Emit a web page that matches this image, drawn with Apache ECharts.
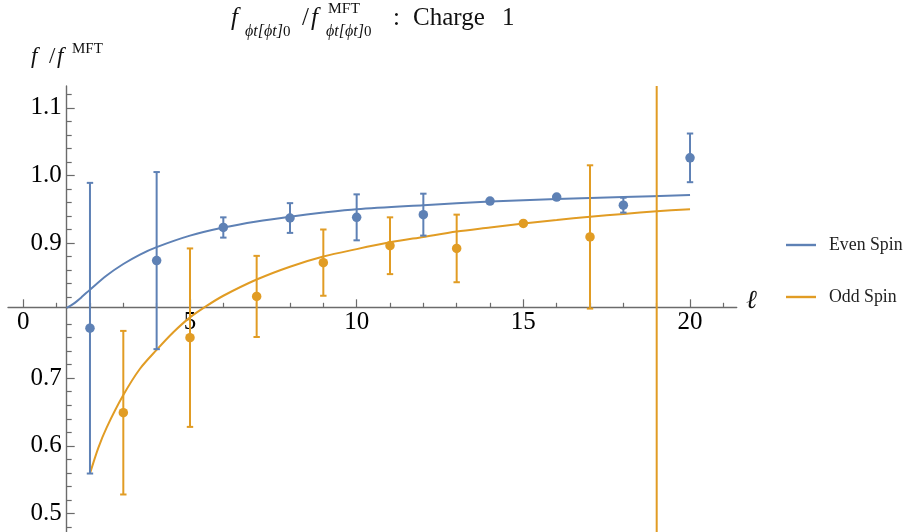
<!DOCTYPE html>
<html><head><meta charset="utf-8">
<script src="https://cdn.jsdelivr.net/npm/echarts@6/dist/echarts.min.js"></script>
<style>html,body{margin:0;padding:0;background:#fff}#c{width:906px;height:532px}</style>
</head><body><div id="c"></div>
<script>
// ---- data ----
const evenL   = [2, 4, 6, 8, 10, 12, 14, 16, 18, 20];
const evenVal = [0.774, 0.874, 0.923, 0.937, 0.938, 0.942, 0.962, 0.968, 0.956, 1.026];
const evenErr = [0.215, 0.131, 0.015, 0.022, 0.034, 0.031, 0, 0, 0.011, 0.036];
const oddL    = [3, 5, 7, 9, 11, 13, 15, 17, 19];
const oddVal  = [0.649, 0.760, 0.821, 0.871, 0.896, 0.892, 0.929, 0.909, 0.20];
const oddErr  = [0.121, 0.132, 0.060, 0.049, 0.042, 0.050, 0, 0.106, 1.2];
const evenFitL   = [1.3, 1.5, 1.75, 2, 2.5, 3, 3.5, 4, 5, 6, 7, 8, 9, 10, 12, 14, 16, 18, 20];
const evenFitVal = [0.804, 0.810, 0.820, 0.831, 0.852, 0.869, 0.883, 0.894, 0.911, 0.923, 0.932, 0.939, 0.945, 0.950, 0.956, 0.9615, 0.965, 0.968, 0.971];
const oddFitL    = [2, 2.25, 2.5, 3, 3.5, 4, 4.5, 5, 5.5, 6, 7, 8, 9, 10, 11, 12, 13, 14, 15, 16, 17, 18, 19, 20];
const oddFitVal  = [0.559, 0.597, 0.627, 0.675, 0.714, 0.742, 0.768, 0.790, 0.807, 0.822, 0.846, 0.865, 0.880, 0.891, 0.901, 0.909, 0.917, 0.923, 0.929, 0.934, 0.939, 0.943, 0.947, 0.950];
const xTickLabels = [0, 5, 10, 15, 20];
const xMinorTicks = [1, 2, 3, 4, 6, 7, 8, 9, 11, 12, 13, 14, 16, 17, 18, 19, 21];
const yTickLabels = [0.5, 0.6, 0.7, 0.9, 1.0, 1.1];
const yMinorTicks = [];
for (let k = 48; k <= 112; k += 2) { if (k % 10 !== 0) yMinorTicks.push(k / 100); }

const BLUE = '#5E81B5', ORANGE = '#E19C24', AX = '#6b6b6b';
const SERIF = '"Liberation Serif", "Times New Roman", serif';

function errRender(color) {
  return function (params, api) {
    const x = api.value(0), lo = api.value(1), hi = api.value(2);
    if (hi - lo <= 0) return null;
    const a = api.coord([x, hi]), b = api.coord([x, lo]);
    const w = 3.2;
    const st = { stroke: color, lineWidth: 2 };
    return { type: 'group', children: [
      { type: 'line', shape: { x1: a[0], y1: a[1], x2: b[0], y2: b[1] }, style: st },
      { type: 'line', shape: { x1: a[0] - w, y1: a[1], x2: a[0] + w, y2: a[1] }, style: st },
      { type: 'line', shape: { x1: b[0] - w, y1: b[1], x2: b[0] + w, y2: b[1] }, style: st }
    ]};
  };
}

function txt(left, top, text, size, italic) {
  return { type: 'text', left: left, top: top, style: { text: text, fontFamily: SERIF, fontSize: size,
    fontStyle: italic ? 'italic' : 'normal', fill: '#111' } };
}
function subTxt(left, top) {
  return { type: 'text', left: left, top: top, style: { text: '{i|ϕt[ϕt]}{r|0}', rich: {
    i: { fontFamily: SERIF, fontStyle: 'italic', fontSize: 16, fill: '#111' },
    r: { fontFamily: SERIF, fontSize: 15, fill: '#111' } } } };
}

const XMIN = -0.459, XMAX = 21.40, YMIN = 0.4725, YMAX = 1.1323;
const xOff = -(532 - 307.3), yOff = -(66.7 - 8);

const chart = echarts.init(document.getElementById('c'), null, { renderer: 'canvas' });
const option = {
  animation: false,
  backgroundColor: '#fff',
  grid: { left: 8, right: 906 - 736.7, top: 86, bottom: 0, containLabel: false, outerBoundsMode: 'none' },
  legend: {
    data: ['Even Spin', 'Odd Spin'], orient: 'vertical', left: 786, top: 234, padding: 0,
    itemWidth: 30, itemHeight: 2.4, itemGap: 30, icon: 'rect',
    textStyle: { fontFamily: SERIF, fontSize: 17.8, color: '#222', padding: [0, 0, 0, 8], lineHeight: 22 }
  },
  xAxis: [{
    type: 'value', min: XMIN, max: XMAX, position: 'bottom', offset: xOff,
    axisLine: { show: true, onZero: false, lineStyle: { color: AX, width: 1.4 } },
    axisTick: { show: true, inside: true, length: 8, customValues: xTickLabels, lineStyle: { color: AX, width: 1.2 } },
    axisLabel: { customValues: xTickLabels, margin: 3, fontFamily: SERIF, fontSize: 25, color: '#000' },
    splitLine: { show: false }
  }, {
    type: 'value', min: XMIN, max: XMAX, position: 'bottom', offset: xOff,
    axisLine: { show: false, onZero: false },
    axisTick: { show: true, inside: true, length: 4.5, customValues: xMinorTicks, lineStyle: { color: AX, width: 1.2 } },
    axisLabel: { show: false }, splitLine: { show: false }
  }],
  yAxis: [{
    type: 'value', min: YMIN, max: YMAX, position: 'left', offset: yOff,
    axisLine: { show: true, onZero: false, lineStyle: { color: AX, width: 1.4 } },
    axisTick: { show: true, inside: true, length: 8, customValues: yTickLabels, lineStyle: { color: AX, width: 1.2 } },
    axisLabel: { customValues: yTickLabels, margin: 5, fontFamily: SERIF, fontSize: 25, color: '#000',
      formatter: v => Number(v).toFixed(1) },
    splitLine: { show: false }
  }, {
    type: 'value', min: YMIN, max: YMAX, position: 'left', offset: yOff,
    axisLine: { show: false, onZero: false },
    axisTick: { show: true, inside: true, length: 5, customValues: yMinorTicks, lineStyle: { color: AX, width: 1.2 } },
    axisLabel: { show: false }, splitLine: { show: false }
  }],
  series: [
    { name: 'Even Spin', type: 'line', smooth: 0.3, showSymbol: false, symbol: 'none', clip: true,
      data: evenFitL.map((l, i) => [l, evenFitVal[i]]), lineStyle: { color: BLUE, width: 2 }, itemStyle: { color: BLUE }, z: 2 },
    { name: 'Odd Spin', type: 'line', smooth: 0.3, showSymbol: false, symbol: 'none', clip: true,
      data: oddFitL.map((l, i) => [l, oddFitVal[i]]), lineStyle: { color: ORANGE, width: 2 }, itemStyle: { color: ORANGE }, z: 2 },
    { name: 'evenErr', type: 'custom', clip: true, renderItem: errRender(BLUE),
      data: evenL.map((l, i) => [l, evenVal[i] - evenErr[i], evenVal[i] + evenErr[i]]), z: 3 },
    { name: 'oddErr', type: 'custom', clip: true, renderItem: errRender(ORANGE),
      data: oddL.map((l, i) => [l, oddVal[i] - oddErr[i], oddVal[i] + oddErr[i]]), z: 3 },
    { name: 'evenPts', type: 'scatter', symbolSize: 9.5, clip: true, itemStyle: { color: BLUE, opacity: 1 },
      data: evenL.map((l, i) => [l, evenVal[i]]), z: 4 },
    { name: 'oddPts', type: 'scatter', symbolSize: 9.5, clip: true, itemStyle: { color: ORANGE, opacity: 1 },
      data: oddL.map((l, i) => [l, oddVal[i]]), z: 4 }
  ],
  graphic: [
    // title
    txt(231, 6, 'f', 25, true),
    subTxt(245, 24),
    txt(302, 6, '/', 25, false),
    txt(311, 6, 'f', 25, true),
    txt(328, 1, 'MFT', 15.5, false),
    subTxt(326, 24),
    txt(393, 6, ':', 25, false),
    txt(413, 6, 'Charge', 25, false),
    txt(502, 6, '1', 25, false),
    // y-axis label
    txt(31, 45, 'f', 23, true),
    txt(49, 45, '/', 23, false),
    txt(57, 45, 'f', 23, true),
    txt(72, 42, 'MFT', 15, false),
    // x-axis label
    txt(746, 288, 'ℓ', 26, true)
  ]
};
chart.setOption(option);
</script>
</body></html>
